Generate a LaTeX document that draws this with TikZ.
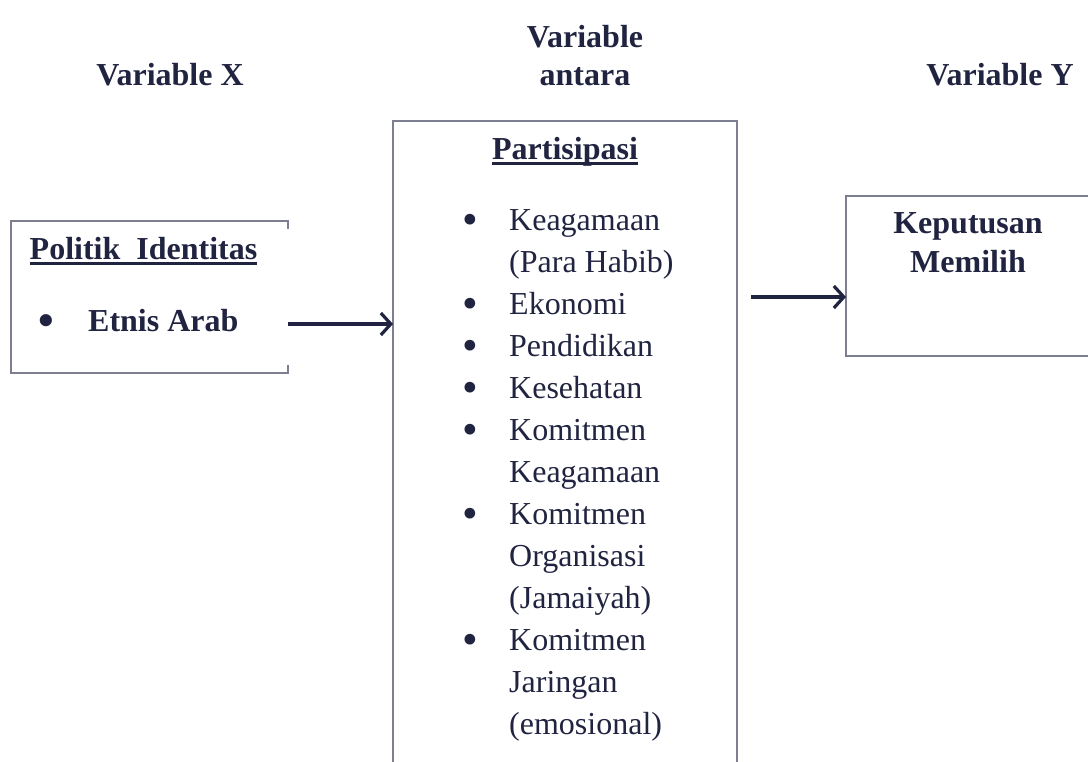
\documentclass[tikz,border=0pt]{standalone}
\usepackage{fontspec}
\setmainfont{Liberation Serif}
\usetikzlibrary{arrows.meta,calc}
\definecolor{ink}{RGB}{33,36,64}
\definecolor{frame}{RGB}{125,127,145}
\newcommand{\myul}[1]{\setbox0\hbox{#1}\rlap{\rule[-5pt]{\wd0}{2.6pt}}\box0}
\newcommand{\bul}{\raisebox{-4pt}{\scalebox{1.4}{•}}}
\begin{document}
\begin{tikzpicture}[x=1pt,y=-1pt,
  txt/.style={font=\fontsize{32}{42}\selectfont, text=ink, inner sep=0pt},
  bold/.style={txt, font=\fontsize{32}{42}\selectfont\bfseries},
  frameline/.style={draw=frame, line width=1.1pt},
  arr/.style={draw=ink, line width=3.2pt, -{Straight Barb[length=10pt,width=22pt]}},
  area/.style={inner sep=0pt, outer sep=0pt}]
\useasboundingbox (0,0) rectangle (1088,762);

% areas of the three boxes
\node[area, minimum width=277pt, minimum height=152pt] (ident) at (149.5,297) {};
\node[area, minimum width=344pt, minimum height=641pt] (mid) at (565,441.5) {};
\node[area, minimum width=242pt, minimum height=160pt] (dec) at (967,276) {};

% frames
\draw[frameline] ($(ident.north east)+(0,8)$) -- (ident.north east) -- (ident.north west)
  -- (ident.south west) -- (ident.south east) -- ($(ident.south east)+(0,-8)$);
\draw[frameline] (mid.south west) -- (mid.north west) -- (mid.north east) -- (mid.south east);
\draw[frameline] (dec.north east) -- (dec.north west) -- (dec.south west) -- (dec.south east);

% headers
\node[bold, anchor=base] (hx) at (170,86) {Variable X};
\node[bold, anchor=base] (hm1) at (585,48) {Variable};
\node[bold, anchor=base] (hm2) at (585,86) {antara};
\node[bold, anchor=base] (hy) at (1000,86) {Variable Y};

% left box
\node[bold, anchor=base] (pol) at (143.5,260) {\myul{Politik\ \ Identitas}};
\node[bold, anchor=base west] (etnis) at (38,331) {\makebox[50pt][l]{\bul}Etnis Arab};

% middle box
\node[bold, anchor=base] (part) at (565,160) {\myul{Partisipasi}};
\node[txt, anchor=north west] (list) at (462.5,201.1) {%
\begin{tabular}{@{}p{46.5pt}@{}l@{}}
\bul & Keagamaan\\
  & (Para Habib)\\
\bul & Ekonomi\\
\bul & Pendidikan\\
\bul & Kesehatan\\
\bul & Komitmen\\
  & Keagamaan\\
\bul & Komitmen\\
  & Organisasi\\
  & (Jamaiyah)\\
\bul & Komitmen\\
  & Jaringan\\
  & (emosional)
\end{tabular}};

% right box
\node[bold, anchor=base] (kep) at (968,234) {Keputusan};
\node[bold, anchor=base] (mem) at (968,273) {Memilih};

% connectors
\coordinate (a1) at ($(etnis.base -| ident.east)+(0,-7)$);
\draw[arr] (a1) -- (a1 -| mid.west);
\coordinate (a2) at (751,297);
\draw[arr] (a2) -- (a2 -| dec.west);
\end{tikzpicture}
\end{document}
